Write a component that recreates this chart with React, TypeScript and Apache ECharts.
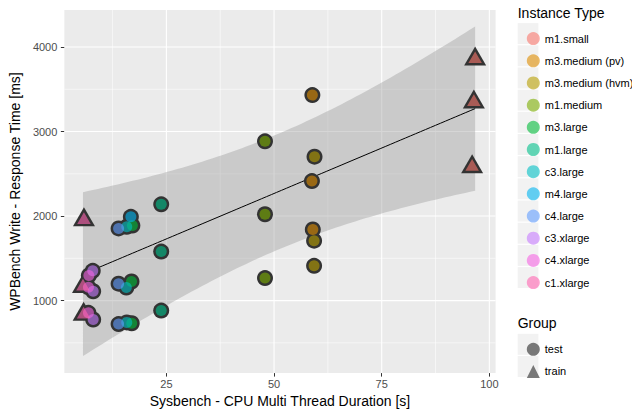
import React, { useEffect, useRef } from "react";
import * as echarts from "echarts";

// ---------- data ----------
const CATEGORIES = [
  "m1.small",
  "m3.medium (pv)",
  "m3.medium (hvm)",
  "m1.medium",
  "m3.large",
  "m1.large",
  "c3.large",
  "m4.large",
  "c4.large",
  "c3.xlarge",
  "c4.xlarge",
  "c1.xlarge",
];
const COLORS = [
  "#F8766D", "#DE8C00", "#B79F00", "#7CAE00", "#00BA38", "#00C08B",
  "#00BFC4", "#00B4F0", "#619CFF", "#C77CFF", "#F564E3", "#FF64B0",
];

// test runs (circles), per category: [cpu duration s, response ms]
const TEST_M1_SMALL: number[][] = [];
const TEST_M3_MEDIUM_PV = [[58.9, 3431], [58.8, 2414], [59.0, 1842]];
const TEST_M3_MEDIUM_HVM = [[59.4, 2703], [59.3, 1709], [59.3, 1411]];
const TEST_M1_MEDIUM = [[47.9, 2884], [47.9, 2022], [47.9, 1266]];
const TEST_M3_LARGE = [[17.1, 1888], [16.9, 1226], [16.95, 732]];
const TEST_M1_LARGE = [[23.8, 2139], [23.8, 1580], [23.8, 882]];
const TEST_C3_LARGE = [[15.8, 1874], [15.7, 1155], [15.8, 742]];
const TEST_M4_LARGE = [[16.75, 1991]];
const TEST_C4_LARGE = [[13.9, 1854], [13.9, 1200], [13.9, 722]];
const TEST_C3_XLARGE = [[7.9, 1352], [8.0, 1110], [8.0, 776]];
const TEST_C4_XLARGE = [[7.0, 1298], [6.9, 1157], [6.9, 855]];
const TEST_C1_XLARGE: number[][] = [];

// train runs (triangles)
const TRAIN_M1_SMALL = [[96.7, 3856], [96.4, 3349], [96.0, 2582]];
const TRAIN_C1_XLARGE = [[5.86, 1953], [5.63, 1165], [5.78, 835]];

const TEST_POINTS = [
  TEST_M1_SMALL, TEST_M3_MEDIUM_PV, TEST_M3_MEDIUM_HVM, TEST_M1_MEDIUM,
  TEST_M3_LARGE, TEST_M1_LARGE, TEST_C3_LARGE, TEST_M4_LARGE,
  TEST_C4_LARGE, TEST_C3_XLARGE, TEST_C4_XLARGE, TEST_C1_XLARGE,
];
const TRAIN_POINTS: number[][][] = [
  TRAIN_M1_SMALL, [], [], [], [], [], [], [], [], [], [], TRAIN_C1_XLARGE,
];

const GROUPS = ["test", "train"];
const X_TICKS = [25, 50, 75, 100];
const X_MINOR = [12.5, 37.5, 62.5, 87.5];
const Y_TICKS = [1000, 2000, 3000, 4000];
const Y_MINOR = [500, 1500, 2500, 3500];
const X_RANGE = [1.31, 101.45];
const Y_RANGE = [142, 4438];

const X_TITLE = "Sysbench - CPU Multi Thread Duration [s]";
const Y_TITLE = "WPBench Write - Response Time [ms]";
const LEGEND_TITLE = "Instance Type";
const GROUP_TITLE = "Group";

// ---------- linear model (geom_smooth method = "lm") on the train runs ----------
const T_975_DF4 = 2.776445; // qt(0.975, n - 2) with n = 6
function fitBand(points: number[][]) {
  const n = points.length;
  const xs = points.map((p) => p[0]);
  const ys = points.map((p) => p[1]);
  const xbar = xs.reduce((a, b) => a + b, 0) / n;
  const ybar = ys.reduce((a, b) => a + b, 0) / n;
  let sxx = 0, sxy = 0;
  for (let i = 0; i < n; i++) {
    sxx += (xs[i] - xbar) ** 2;
    sxy += (xs[i] - xbar) * (ys[i] - ybar);
  }
  const b = sxy / sxx;
  const a = ybar - b * xbar;
  let sse = 0;
  for (let i = 0; i < n; i++) sse += (ys[i] - (a + b * xs[i])) ** 2;
  const s = Math.sqrt(sse / (n - 2));
  const xmin = Math.min(...xs), xmax = Math.max(...xs);
  const upper: number[][] = [], lower: number[][] = [], fit: number[][] = [];
  const steps = 80;
  for (let k = 0; k < steps; k++) {
    const x = xmin + ((xmax - xmin) * k) / (steps - 1);
    const yh = a + b * x;
    const se = s * Math.sqrt(1 / n + (x - xbar) ** 2 / sxx);
    upper.push([x, yh + T_975_DF4 * se]);
    lower.push([x, yh - T_975_DF4 * se]);
    fit.push([x, yh]);
  }
  return { upper, lower, fit };
}

const FONT = "'Liberation Sans', Arial, Helvetica, sans-serif";

export default function App() {
  const ref = useRef<HTMLDivElement>(null);

  useEffect(() => {
    document.body.style.margin = "0";
    if (!ref.current) return;
    const chart = echarts.init(ref.current, undefined, { renderer: "svg" });

    const allTrain = TRAIN_POINTS.flat();
    const band = fitBand(allTrain);

    const gridLineSeries = (values: number[], vertical: boolean, width: number) => ({
      type: "custom",
      silent: true,
      z: 1,
      data: values.map((v) => (vertical ? [v, Y_RANGE[0]] : [X_RANGE[0], v])),
      renderItem: (_p: any, api: any) => {
        const v = api.value(vertical ? 0 : 1);
        const p1 = vertical ? api.coord([v, Y_RANGE[0]]) : api.coord([X_RANGE[0], v]);
        const p2 = vertical ? api.coord([v, Y_RANGE[1]]) : api.coord([X_RANGE[1], v]);
        return {
          type: "line",
          shape: { x1: p1[0], y1: p1[1], x2: p2[0], y2: p2[1] },
          style: { stroke: "#ffffff", lineWidth: width },
        };
      },
    });

    const CIRCLE_OUT = 16, CIRCLE_IN = 11;
    const TRI_OUT = [22, 19], TRI_IN = [13.5, 11.7];

    const pointItems = (i: number, outline: boolean) => [
      ...TEST_POINTS[i].map((p) => ({
        value: p,
        symbol: "circle",
        symbolSize: outline ? CIRCLE_OUT : CIRCLE_IN,
      })),
      ...TRAIN_POINTS[i].map((p) => {
        const sz = outline ? TRI_OUT : TRI_IN;
        return {
          value: p,
          symbol: "triangle",
          symbolSize: sz,
          symbolOffset: [0, -sz[1] / 6],
        };
      }),
    ];

    const outlineSeries = {
      type: "scatter",
      name: "__outline",
      silent: true,
      z: 4,
      itemStyle: { color: "#333333", opacity: 1 },
      data: CATEGORIES.flatMap((_c, i) => pointItems(i, true)),
    };

    const fillSeries = CATEGORIES.map((c, i) => ({
      type: "scatter",
      name: c,
      z: 5,
      silent: true,
      itemStyle: { color: COLORS[i], opacity: 0.6 },
      data: pointItems(i, false),
    }));

    const groupSeries = GROUPS.map((g) => ({
      type: "scatter",
      name: g,
      data: [],
      itemStyle: { color: "#595959" },
    }));

    const keyRects: any[] = [];
    const keyW = 20.7, keyH = 22.18;
    CATEGORIES.forEach((_c, i) => {
      const cy = 33.6 + keyH * i;
      keyRects.push({
        type: "rect",
        z: 0,
        shape: { x: 517.7, y: cy - keyH / 2 + 0.6, width: keyW, height: keyH - 1.2 },
        style: { fill: "#f2f2f2" },
      });
    });
    GROUPS.forEach((_g, i) => {
      const cy = 344.3 + keyH * i;
      keyRects.push({
        type: "rect",
        z: 0,
        shape: { x: 517.7, y: cy - keyH / 2 + 0.6, width: keyW, height: keyH - 1.2 },
        style: { fill: "#f2f2f2" },
      });
    });

    const plainLabel = (v: number) => String(v);

    const option: any = {
      animation: false,
      backgroundColor: "#ffffff",
      textStyle: { fontFamily: FONT },
      grid: {
        left: 61.3,
        right: 632 - 495.6,
        top: 10,
        bottom: 413 - 375.7,
        show: true,
        backgroundColor: "#ebebeb",
        borderWidth: 0,
        containLabel: false,
      },
      xAxis: {
        type: "value",
        min: X_RANGE[0],
        max: X_RANGE[1],
        name: X_TITLE,
        nameLocation: "middle",
        nameGap: 19,
        nameTextStyle: { fontFamily: FONT, fontSize: 14, color: "#000000" },
        axisLine: { show: false },
        axisTick: { show: true, length: 3.5, lineStyle: { color: "#333333", width: 1 }, customValues: X_TICKS },
        axisLabel: { customValues: X_TICKS, formatter: plainLabel, color: "#4d4d4d", fontSize: 11, margin: 5, fontFamily: FONT },
        splitLine: { show: false },
      },
      yAxis: {
        type: "value",
        min: Y_RANGE[0],
        max: Y_RANGE[1],
        name: Y_TITLE,
        nameLocation: "middle",
        nameRotate: 90,
        nameGap: 38,
        nameTextStyle: { fontFamily: FONT, fontSize: 14, color: "#000000" },
        axisLine: { show: false },
        axisTick: { show: true, length: 3.5, lineStyle: { color: "#333333", width: 1 }, customValues: Y_TICKS },
        axisLabel: { customValues: Y_TICKS, formatter: plainLabel, color: "#4d4d4d", fontSize: 11, margin: 7, fontFamily: FONT },
        splitLine: { show: false },
      },
      legend: [
        {
          orient: "vertical",
          left: 521.8,
          top: 27.1,
          itemWidth: 13,
          itemHeight: 13,
          itemGap: keyH - 13,
          selectedMode: false,
          z: 10,
          textStyle: { fontFamily: FONT, fontSize: 11, color: "#000000", lineHeight: 13 },
          data: CATEGORIES.map((c, i) => ({
            name: c,
            icon: "circle",
            itemStyle: { color: COLORS[i], opacity: 0.6, borderWidth: 0 },
          })),
        },
        {
          orient: "vertical",
          left: 521.8,
          top: 344.3 - 6.5,
          itemWidth: 13,
          itemHeight: 13,
          itemGap: keyH - 13,
          selectedMode: false,
          z: 10,
          textStyle: { fontFamily: FONT, fontSize: 11, color: "#000000", lineHeight: 13 },
          data: [
            { name: GROUPS[0], icon: "circle", itemStyle: { color: "#595959", borderWidth: 0 } },
            { name: GROUPS[1], icon: "triangle", itemStyle: { color: "#595959", borderWidth: 0 } },
          ],
        },
      ],
      graphic: [
        ...keyRects,
        {
          type: "text",
          z: 10,
          x: 517.7,
          y: 13.3,
          style: { text: LEGEND_TITLE, fontFamily: FONT, fontSize: 14, fill: "#000000", verticalAlign: "middle", align: "left" },
        },
        {
          type: "text",
          z: 10,
          x: 517.7,
          y: 323.3,
          style: { text: GROUP_TITLE, fontFamily: FONT, fontSize: 14, fill: "#000000", verticalAlign: "middle", align: "left" },
        },
      ],
      series: [
        gridLineSeries(X_MINOR, true, 0.55),
        gridLineSeries(Y_MINOR, false, 0.55),
        gridLineSeries(X_TICKS, true, 1.1),
        gridLineSeries(Y_TICKS, false, 1.1),
        {
          type: "custom",
          name: "__band",
          silent: true,
          z: 2,
          data: [[band.fit[0][0], band.fit[0][1]]],
          renderItem: (_p: any, api: any) => {
            const pts = [
              ...band.upper.map((p) => api.coord(p)),
              ...band.lower.slice().reverse().map((p) => api.coord(p)),
            ];
            return {
              type: "polygon",
              shape: { points: pts },
              style: { fill: "rgba(153,153,153,0.4)" },
            };
          },
        },
        {
          type: "line",
          name: "__fit",
          silent: true,
          z: 3,
          symbol: "none",
          lineStyle: { color: "#000000", width: 1 },
          data: band.fit,
        },
        outlineSeries,
        ...fillSeries,
        ...groupSeries,
      ],
    };

    chart.setOption(option);
    return () => chart.dispose();
  }, []);

  return (
    <div
      ref={ref}
      style={{ position: "absolute", left: 0, top: 0, width: 632, height: 413 }}
    />
  );
}
